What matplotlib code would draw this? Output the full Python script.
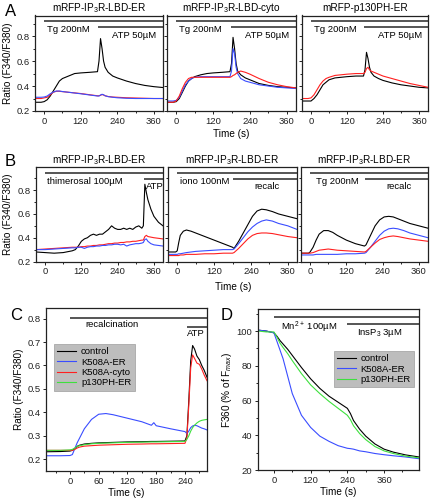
import matplotlib
matplotlib.use("Agg")
import matplotlib.pyplot as plt
from matplotlib.ticker import MultipleLocator

plt.rcParams['font.family'] = ['Liberation Sans', 'DejaVu Sans']
plt.rcParams['mathtext.fontset'] = 'custom'
plt.rcParams['mathtext.rm'] = 'Liberation Sans'
plt.rcParams['mathtext.it'] = 'Liberation Sans:italic'
plt.rcParams['mathtext.bf'] = 'Liberation Sans:bold'

# ---------------- data ----------------
# Panel A
t_A = [-30, -10, 0, 10, 20, 30, 40, 50, 60, 80, 100, 120, 150, 175, 180, 185, 190, 195, 200, 210, 225, 240, 270, 300, 330, 360, 390]
A1_black = [0.27, 0.27, 0.275, 0.29, 0.32, 0.36, 0.40, 0.44, 0.46, 0.48, 0.50, 0.505, 0.51, 0.515, 0.60, 0.78, 0.70, 0.60, 0.55, 0.51, 0.48, 0.465, 0.44, 0.42, 0.405, 0.395, 0.388]
A1_red = [0.30, 0.30, 0.305, 0.31, 0.33, 0.35, 0.358, 0.358, 0.355, 0.35, 0.345, 0.34, 0.33, 0.322, 0.322, 0.326, 0.332, 0.328, 0.322, 0.316, 0.312, 0.31, 0.306, 0.304, 0.302, 0.30, 0.30]
A1_blue = [0.31, 0.31, 0.312, 0.32, 0.338, 0.352, 0.36, 0.36, 0.356, 0.35, 0.344, 0.338, 0.328, 0.32, 0.32, 0.328, 0.334, 0.33, 0.322, 0.315, 0.31, 0.306, 0.302, 0.30, 0.30, 0.30, 0.30]
A2_black = [0.27, 0.27, 0.275, 0.30, 0.35, 0.40, 0.44, 0.46, 0.475, 0.49, 0.50, 0.505, 0.51, 0.515, 0.58, 0.79, 0.70, 0.58, 0.52, 0.49, 0.465, 0.45, 0.42, 0.405, 0.395, 0.39, 0.385]
A2_blue = [0.28, 0.28, 0.285, 0.31, 0.36, 0.41, 0.44, 0.46, 0.47, 0.475, 0.475, 0.475, 0.475, 0.475, 0.52, 0.70, 0.66, 0.55, 0.50, 0.46, 0.44, 0.43, 0.41, 0.40, 0.39, 0.385, 0.38]
A2_red = [0.27, 0.27, 0.28, 0.32, 0.38, 0.43, 0.46, 0.47, 0.47, 0.47, 0.47, 0.47, 0.47, 0.47, 0.475, 0.485, 0.49, 0.50, 0.51, 0.52, 0.51, 0.495, 0.46, 0.43, 0.41, 0.395, 0.385]
A3_red = [0.30, 0.30, 0.305, 0.33, 0.37, 0.41, 0.44, 0.46, 0.47, 0.485, 0.49, 0.495, 0.50, 0.50, 0.51, 0.54, 0.55, 0.53, 0.52, 0.51, 0.495, 0.48, 0.46, 0.44, 0.42, 0.405, 0.39]
A3_black = [0.28, 0.28, 0.28, 0.30, 0.33, 0.37, 0.41, 0.43, 0.45, 0.465, 0.47, 0.475, 0.48, 0.48, 0.53, 0.67, 0.62, 0.55, 0.51, 0.48, 0.46, 0.445, 0.425, 0.41, 0.40, 0.39, 0.385]

# Panel B
t_B1 = [-30, 0, 30, 60, 90, 100, 110, 120, 130, 140, 150, 160, 170, 180, 190, 200, 210, 220, 230, 240, 250, 260, 270, 280, 290, 300, 310, 320, 325, 330, 335, 340, 350, 360, 375, 390]
B1_black = [0.28, 0.275, 0.27, 0.275, 0.29, 0.30, 0.33, 0.37, 0.39, 0.40, 0.42, 0.43, 0.42, 0.43, 0.43, 0.45, 0.47, 0.50, 0.48, 0.47, 0.47, 0.48, 0.47, 0.48, 0.47, 0.49, 0.50, 0.48, 0.50, 0.85, 0.78, 0.72, 0.64, 0.58, 0.53, 0.50]
B1_red = [0.30, 0.305, 0.31, 0.315, 0.32, 0.32, 0.32, 0.325, 0.325, 0.33, 0.33, 0.335, 0.335, 0.34, 0.34, 0.345, 0.35, 0.35, 0.355, 0.355, 0.36, 0.36, 0.365, 0.365, 0.37, 0.37, 0.375, 0.38, 0.38, 0.41, 0.42, 0.41, 0.405, 0.40, 0.395, 0.39]
B1_blue = [0.30, 0.30, 0.305, 0.31, 0.315, 0.315, 0.32, 0.32, 0.31, 0.32, 0.325, 0.325, 0.33, 0.33, 0.335, 0.335, 0.34, 0.34, 0.345, 0.345, 0.34, 0.345, 0.33, 0.34, 0.345, 0.35, 0.35, 0.355, 0.36, 0.385, 0.39, 0.37, 0.35, 0.34, 0.335, 0.33]
t_B2 = [-30, -5, 0, 5, 10, 20, 30, 45, 60, 90, 120, 150, 180, 185, 200, 215, 230, 245, 260, 275, 290, 310, 330, 360, 390]
B2_black = [0.28, 0.28, 0.29, 0.36, 0.42, 0.455, 0.465, 0.455, 0.44, 0.41, 0.38, 0.35, 0.32, 0.31, 0.37, 0.44, 0.51, 0.58, 0.625, 0.64, 0.635, 0.62, 0.60, 0.58, 0.56]
B2_blue = [0.26, 0.26, 0.26, 0.265, 0.265, 0.27, 0.275, 0.28, 0.285, 0.29, 0.295, 0.30, 0.30, 0.305, 0.35, 0.40, 0.45, 0.49, 0.52, 0.54, 0.55, 0.54, 0.52, 0.50, 0.47]
B2_red = [0.25, 0.25, 0.25, 0.25, 0.255, 0.255, 0.26, 0.26, 0.26, 0.265, 0.265, 0.27, 0.27, 0.275, 0.31, 0.35, 0.39, 0.42, 0.435, 0.44, 0.44, 0.435, 0.425, 0.41, 0.40]
t_B3 = [-30, -5, 0, 10, 20, 30, 45, 60, 75, 90, 120, 150, 180, 185, 200, 215, 230, 245, 260, 275, 290, 310, 330, 360, 390]
B3_black = [0.27, 0.27, 0.28, 0.32, 0.38, 0.43, 0.46, 0.46, 0.445, 0.42, 0.38, 0.35, 0.33, 0.34, 0.42, 0.50, 0.55, 0.575, 0.58, 0.575, 0.56, 0.54, 0.52, 0.50, 0.48]
B3_blue = [0.255, 0.255, 0.255, 0.255, 0.26, 0.26, 0.26, 0.26, 0.26, 0.26, 0.265, 0.265, 0.27, 0.275, 0.32, 0.37, 0.42, 0.455, 0.475, 0.48, 0.475, 0.46, 0.44, 0.42, 0.40]
B3_red = [0.27, 0.27, 0.27, 0.275, 0.285, 0.295, 0.30, 0.305, 0.30, 0.295, 0.29, 0.285, 0.28, 0.285, 0.32, 0.355, 0.385, 0.40, 0.41, 0.415, 0.41, 0.40, 0.39, 0.38, 0.37]

# Panel C
t_C = [-50, -20, 0, 5, 10, 15, 20, 30, 45, 60, 75, 90, 120, 150, 170, 175, 180, 210, 240, 244, 248, 252, 256, 260, 265, 270, 275, 280, 286]
C_control = [0.232, 0.233, 0.235, 0.238, 0.245, 0.255, 0.26, 0.265, 0.268, 0.27, 0.271, 0.272, 0.274, 0.275, 0.276, 0.276, 0.276, 0.277, 0.278, 0.30, 0.45, 0.62, 0.685, 0.67, 0.64, 0.625, 0.60, 0.58, 0.55]
C_K508A_ER = [0.215, 0.215, 0.216, 0.22, 0.245, 0.27, 0.29, 0.33, 0.37, 0.392, 0.395, 0.39, 0.375, 0.36, 0.345, 0.356, 0.343, 0.33, 0.318, 0.31, 0.32, 0.335, 0.342, 0.345, 0.343, 0.338, 0.333, 0.33, 0.325]
C_K508A_cyto = [0.238, 0.238, 0.238, 0.238, 0.242, 0.248, 0.252, 0.256, 0.258, 0.26, 0.261, 0.262, 0.264, 0.265, 0.266, 0.266, 0.266, 0.267, 0.268, 0.29, 0.43, 0.59, 0.645, 0.63, 0.61, 0.605, 0.585, 0.56, 0.535]
C_p130PH_ER = [0.238, 0.238, 0.24, 0.242, 0.248, 0.255, 0.258, 0.262, 0.266, 0.268, 0.269, 0.27, 0.272, 0.273, 0.274, 0.274, 0.274, 0.275, 0.276, 0.285, 0.30, 0.32, 0.335, 0.345, 0.355, 0.362, 0.366, 0.368, 0.37]
C_labels = ['control', 'K508A-ER', 'K508A-cyto', 'p130PH-ER']

# Panel D
t_D = [-50, -25, 0, 10, 20, 30, 45, 60, 90, 120, 150, 180, 210, 240, 250, 260, 280, 300, 330, 360, 390, 430, 474]
D_control = [100.5, 100, 99, 97, 94.5, 92.5, 89.5, 86, 79, 72.5, 67, 62.5, 59, 55.5, 52.5, 48.5, 43.5, 39.5, 35, 32, 30.3, 28.7, 27.5]
D_K508A_ER = [100.5, 100, 99, 94, 89, 84, 74, 64, 51.5, 44.5, 39.5, 36.5, 34, 32.5, 32.3, 32, 31, 30.5, 29.5, 28.8, 28.2, 27.5, 26.5]
D_p130PH_ER = [100, 99.5, 99.5, 96.5, 93, 90.5, 87, 83, 75.5, 69, 64, 59.5, 55.5, 51.5, 49, 45.5, 41, 37.5, 33.5, 31, 29.5, 28, 27]
D_labels = ['control', 'K508A-ER', 'p130PH-ER']

# ---------------- styling ----------------
BLACK = '#000000'
BLUE = '#3a4dff'
RED = '#ff2020'
GREEN = '#3ee03e'
BAR = '#555555'
FS_TICK = 6.8
FS_LAB = 7.2

fig = plt.figure(figsize=(4.32, 5.03), dpi=100)

def add_ax(l, r, t, b):
    return fig.add_axes([l / 432, 1 - b / 503, (r - l) / 432, (b - t) / 503])

def style(ax, show_y=True):
    for s in ax.spines.values():
        s.set_linewidth(0.9)
        s.set_color('#222222')
    ax.tick_params(which='major', direction='out', length=2.5, width=0.7, labelsize=FS_TICK, pad=1.5, colors='#222222')
    ax.tick_params(which='minor', direction='out', length=1.5, width=0.6)
    if not show_y:
        ax.tick_params(axis='y', labelleft=False)

lw = 0.8

def bar(ax, x0, x1, y):
    ax.plot([x0, x1], [y, y], color=BAR, lw=1.4, solid_capstyle='butt', clip_on=False)

# Panel A
A_pos = [(35, 163), (167, 296), (302, 428)]
A_titles = ['mRFP-IP$_3$R-LBD-ER', 'mRFP-IP$_3$R-LBD-cyto', 'mRFP-p130PH-ER']
A_series = [
    [(A1_black, BLACK), (A1_red, RED), (A1_blue, BLUE)],
    [(A2_black, BLACK), (A2_blue, BLUE), (A2_red, RED)],
    [(A3_black, BLACK), (A3_red, RED)],
]
for i, ((l, r), title, series) in enumerate(zip(A_pos, A_titles, A_series)):
    ax = add_ax(l, r, 15.5, 111)
    for y, c in series:
        ax.plot(t_A, y, color=c, lw=lw)
    ax.set_xlim(-30, 390)
    ax.set_ylim(0.2, 0.965)
    ax.set_xticks([0, 120, 240, 360])
    ax.xaxis.set_minor_locator(MultipleLocator(60))
    ax.set_yticks([0.2, 0.4, 0.6, 0.8])
    ax.yaxis.set_minor_locator(MultipleLocator(0.1))
    style(ax, show_y=(i == 0))
    ax.set_title(title, fontsize=FS_LAB, pad=3)
    bar(ax, 0, 390, 0.92)
    bar(ax, 178, 390, 0.872)
    ax.text(10, 0.856, 'Tg 200nM', fontsize=FS_TICK, va='center', ha='left')
    ax.text(224, 0.808, 'ATP 50µM', fontsize=FS_TICK, va='center', ha='left')

fig.text(8 / 432, 1 - 63 / 503, 'Ratio (F340/F380)', rotation=90, fontsize=FS_LAB, ha='center', va='center')
fig.text(231 / 432, 1 - 134 / 503, 'Time (s)', fontsize=FS_LAB, ha='center', va='center')
fig.text(5 / 432, 1 - 12 / 503, 'A', fontsize=12, ha='left', va='center')

# Panel B
B_pos = [(36, 163), (168, 297), (301, 428)]
B_t = [t_B1, t_B2, t_B3]
B_series = [
    [(B1_black, BLACK), (B1_red, RED), (B1_blue, BLUE)],
    [(B2_black, BLACK), (B2_blue, BLUE), (B2_red, RED)],
    [(B3_black, BLACK), (B3_blue, BLUE), (B3_red, RED)],
]
for i, ((l, r), tt, series) in enumerate(zip(B_pos, B_t, B_series)):
    ax = add_ax(l, r, 167, 261.5)
    for y, c in series:
        ax.plot(tt, y, color=c, lw=lw)
    ax.set_xlim(-30, 390)
    ax.set_ylim(0.2, 0.995)
    ax.set_xticks([0, 120, 240, 360])
    ax.xaxis.set_minor_locator(MultipleLocator(60))
    ax.set_yticks([0.2, 0.4, 0.6, 0.8])
    ax.yaxis.set_minor_locator(MultipleLocator(0.1))
    style(ax, show_y=(i == 0))
    ax.set_title('mRFP-IP$_3$R-LBD-ER', fontsize=FS_LAB, pad=3)
    bar(ax, 0, 390, 0.948)
    if i == 0:
        bar(ax, 326, 390, 0.895)
        ax.text(5, 0.87, 'thimerosal 100µM', fontsize=FS_TICK, va='center', ha='left')
        ax.text(333, 0.83, 'ATP', fontsize=FS_TICK, va='center', ha='left', clip_on=True)
    elif i == 1:
        bar(ax, 180, 390, 0.895)
        ax.text(8, 0.87, 'iono 100nM', fontsize=FS_TICK, va='center', ha='left')
        ax.text(250, 0.83, 'recalc', fontsize=FS_TICK, va='center', ha='left')
    else:
        bar(ax, 180, 390, 0.895)
        ax.text(18, 0.87, 'Tg 200nM', fontsize=FS_TICK, va='center', ha='left')
        ax.text(253, 0.83, 'recalc', fontsize=FS_TICK, va='center', ha='left')

fig.text(8 / 432, 1 - 214 / 503, 'Ratio (F340/F380)', rotation=90, fontsize=FS_LAB, ha='center', va='center')
fig.text(233 / 432, 1 - 287 / 503, 'Time (s)', fontsize=FS_LAB, ha='center', va='center')
fig.text(5 / 432, 1 - 162 / 503, 'B', fontsize=12, ha='left', va='center')

# Panel C
axC = add_ax(46, 207, 308, 471)
for y, c, lab in zip([C_control, C_K508A_ER, C_K508A_cyto, C_p130PH_ER], [BLACK, BLUE, RED, GREEN], C_labels):
    axC.plot(t_C, y, color=c, lw=lw, label=lab)
axC.set_xlim(-50, 286)
axC.set_ylim(0.15, 0.845)
axC.set_xticks([0, 60, 120, 180, 240])
axC.xaxis.set_minor_locator(MultipleLocator(30))
axC.set_yticks([0.2, 0.3, 0.4, 0.5, 0.6, 0.7, 0.8])
style(axC)
bar(axC, 0, 286, 0.804)
bar(axC, 244, 286, 0.766)
axC.text(33, 0.774, 'recalcination', fontsize=FS_TICK, va='center', ha='left')
axC.text(245, 0.736, 'ATP', fontsize=FS_TICK, va='center', ha='left')
axC.set_xlabel('Time (s)', fontsize=FS_LAB, labelpad=2)
axC.set_ylabel('Ratio (F340/F380)', fontsize=FS_LAB, labelpad=2)
legC = axC.legend(loc='upper left', bbox_to_anchor=(0.05, 0.78), fontsize=FS_TICK, frameon=True,
                  fancybox=False, facecolor='#bdbdbd', edgecolor='#a8a8a8', framealpha=1,
                  handlelength=2.0, handletextpad=0.5, labelspacing=0.15, borderpad=0.35, borderaxespad=0)
legC.get_frame().set_linewidth(0.6)
fig.text(10 / 432, 1 - 315 / 503, 'C', fontsize=12, ha='left', va='center')

# Panel D
axD = add_ax(258, 419, 309, 470)
for y, c, lab in zip([D_control, D_K508A_ER, D_p130PH_ER], [BLACK, BLUE, GREEN], D_labels):
    axD.plot(t_D, y, color=c, lw=lw, label=lab)
axD.set_xlim(-52, 474)
axD.set_ylim(20, 112.7)
axD.set_xticks([0, 120, 240, 360])
axD.xaxis.set_minor_locator(MultipleLocator(60))
axD.set_yticks([20, 40, 60, 80, 100])
axD.yaxis.set_minor_locator(MultipleLocator(10))
style(axD)
bar(axD, 0, 474, 108.1)
bar(axD, 240, 474, 104.0)
axD.text(23, 102.3, 'Mn$^{2+}$ 100µM', fontsize=FS_TICK, va='center', ha='left')
axD.text(273, 98.8, 'InsP$_3$ 3µM', fontsize=FS_TICK, va='center', ha='left')
axD.set_xlabel('Time (s)', fontsize=FS_LAB, labelpad=2)
axD.set_ylabel('F360 (% of F$_{max}$)', fontsize=FS_LAB, labelpad=2)
legD = axD.legend(loc='upper left', bbox_to_anchor=(0.47, 0.74), fontsize=FS_TICK, frameon=True,
                  fancybox=False, facecolor='#bdbdbd', edgecolor='#a8a8a8', framealpha=1,
                  handlelength=2.0, handletextpad=0.5, labelspacing=0.15, borderpad=0.35, borderaxespad=0)
legD.get_frame().set_linewidth(0.6)
fig.text(221 / 432, 1 - 315 / 503, 'D', fontsize=12, ha='left', va='center')

fig.savefig('out.png', dpi=100)
